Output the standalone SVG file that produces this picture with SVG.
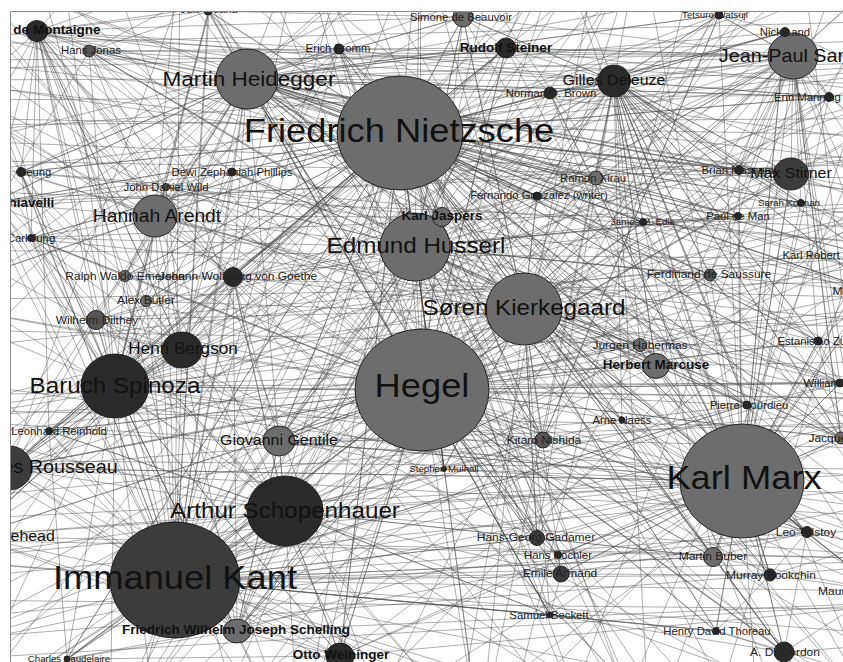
<svg xmlns="http://www.w3.org/2000/svg" width="843" height="662" viewBox="0 0 843 662">
<style>
.e{fill:none;stroke:#4d4d4d;stroke-width:0.65;stroke-opacity:0.7}
ellipse{stroke:#1a1a1a;stroke-width:0.9}
.g{fill:#6d6d6d}.d{fill:#2a2a2a}.k{fill:#3c3c3c}.m{fill:#555}
text{font-family:"Liberation Sans",Arial,sans-serif;fill:#111;text-anchor:middle;dominant-baseline:central;transform-box:fill-box;transform-origin:center;transform:scaleX(1.1)}
.xl{font-size:33px}.l2{font-size:22px}.l1{font-size:20.5px}.l0{font-size:18px}.h{font-size:17.5px}.hb{font-size:15.6px}.m1{font-size:14.5px}
.b{font-size:12.3px;font-weight:bold}.s3{font-size:10.9px;fill:#222}.s2{font-size:10.3px;fill:#222}.s1{font-size:8.8px;fill:#222}
</style>
<defs><clipPath id="c"><rect x="10" y="11" width="900" height="700"/></clipPath></defs>
<rect width="843" height="662" fill="#fff"/>
<g clip-path="url(#c)">
<g id="edges">
<path class="e" d="M175 580L422 390M175 580L400 133M175 580L247 79M175 580L285 511M175 580L237 631M175 580L115 386M175 580L182 350M175 580L279 441M175 580L49 431M175 580L9 468M175 580L-28 536M175 580L415 247M175 580L524 309M175 580L742 481M175 580L155 216M175 580L96 320M175 580L233 277M175 580L67 659M175 580L340 656M175 580L442 217M175 580L537 538M175 580L561 574M175 580L713 557M175 580L444 469M175 580L543 440M175 580L747 405M175 580L710 275M175 580L640 345M175 580L656 366M175 580L596 178M175 580L232 172M175 580L146 301M175 580L125 276M175 580L21 172M175 580L31 238M175 580L37 31M175 580L-8 203M175 580L614 81M175 580L793 56M175 580L550 615M175 580L716 631M175 580L166 187M175 580L339 49M175 580L209 11M175 580L-80 80M175 580L-90 300M175 580L-60 560M175 580L-40 720M175 580L110 740M175 580L300 760M175 580L480 740M175 580L650 740M175 580L880 720M175 580L940 560M175 580L950 400M175 580L420 -70M175 580L180 -60M175 580L-60 -40M175 580L-100 420M175 580L760 760M175 580L-70 650M175 580L560 -50M175 580L300 -60"/>
<path class="e" d="M422 390L400 133M422 390L247 79M422 390L415 247M422 390L524 309M422 390L742 481M422 390L285 511M422 390L115 386M422 390L279 441M422 390L543 440M422 390L444 469M422 390L640 345M422 390L656 366M422 390L442 217M422 390L155 216M422 390L237 631M422 390L233 277M422 390L182 350M422 390L96 320M422 390L614 81M422 390L793 56M422 390L791 174M422 390L710 275M422 390L747 405M422 390L622 420M422 390L537 538M422 390L561 574M422 390L713 557M422 390L807 532M422 390L841 438M422 390L840 383M422 390L818 341M422 390L739 170M422 390L801 203M422 390L506 48M422 390L550 93M422 390L339 49M422 390L596 178M422 390L537 196M422 390L643 222M422 390L719 15M422 390L340 656M422 390L67 659M422 390L49 431M422 390L9 468M422 390L-28 536M422 390L37 31M422 390L89 51M422 390L463 17M422 390L785 32M422 390L829 97M422 390L770 575M422 390L716 631M422 390L784 652M422 390L558 555M422 390L550 615M422 390L125 276M422 390L146 301M422 390L232 172M422 390L31 238M422 390L-80 80M422 390L-90 300M422 390L-40 720M422 390L110 740M422 390L300 760M422 390L480 740M422 390L650 740M422 390L880 720M422 390L940 560M422 390L950 400M422 390L930 200M422 390L900 -40M422 390L640 -60M422 390L420 -70M422 390L180 -60M422 390L-60 -40M422 390L-100 420M422 390L990 60M422 390L760 760M422 390L-70 650M422 390L560 -50M422 390L300 -60M422 390L960 300"/>
<path class="e" d="M400 133L247 79M400 133L614 81M400 133L793 56M400 133L791 174M400 133L463 17M400 133L339 49M400 133L506 48M400 133L550 93M400 133L719 15M400 133L785 32M400 133L829 97M400 133L739 170M400 133L801 203M400 133L738 216M400 133L596 178M400 133L537 196M400 133L643 222M400 133L442 217M400 133L415 247M400 133L524 309M400 133L285 511M400 133L115 386M400 133L182 350M400 133L155 216M400 133L166 187M400 133L232 172M400 133L233 277M400 133L125 276M400 133L146 301M400 133L96 320M400 133L37 31M400 133L89 51M400 133L209 11M400 133L21 172M400 133L31 238M400 133L656 366M400 133L640 345M400 133L710 275M400 133L818 341M400 133L840 383M400 133L841 438M400 133L747 405M400 133L622 420M400 133L543 440M400 133L444 469M400 133L340 656M400 133L279 441M400 133L67 659M400 133L784 652M400 133L716 631M400 133L770 575M400 133L807 532M400 133L-8 203M400 133L49 431M400 133L9 468M400 133L-28 536M400 133L868 255M400 133L874 291M400 133L-80 80M400 133L-90 300M400 133L-60 560M400 133L930 200M400 133L900 -40M400 133L640 -60M400 133L420 -70M400 133L180 -60M400 133L-60 -40M400 133L990 60M400 133L560 -50M400 133L300 -60M400 133L960 300M400 133L950 400M400 133L940 560M400 133L880 720M400 133L650 740M400 133L480 740M400 133L300 760M400 133L110 740M400 133L-40 720"/>
<path class="e" d="M742 481L656 366M742 481L640 345M742 481L747 405M742 481L622 420M742 481L543 440M742 481L713 557M742 481L807 532M742 481L770 575M742 481L716 631M742 481L784 652M742 481L561 574M742 481L537 538M742 481L558 555M742 481L550 615M742 481L841 438M742 481L840 383M742 481L818 341M742 481L710 275M742 481L868 255M742 481L874 291M742 481L880 591M742 481L793 56M742 481L614 81M742 481L791 174M742 481L524 309M742 481L415 247M742 481L285 511M742 481L340 656M742 481L444 469M742 481L115 386M742 481L247 79M742 481L596 178M742 481L537 196M742 481L643 222M742 481L739 170M742 481L801 203M742 481L738 216M742 481L550 93M742 481L506 48M742 481L719 15M742 481L785 32M742 481L829 97M742 481L279 441M742 481L237 631M742 481L9 468M742 481L300 760M742 481L480 740M742 481L650 740M742 481L880 720M742 481L940 560M742 481L950 400M742 481L930 200M742 481L900 -40M742 481L640 -60M742 481L990 60M742 481L760 760M742 481L960 300M742 481L560 -50M742 481L-70 650M742 481L-60 560"/>
<path class="e" d="M247 79L37 31M247 79L89 51M247 79L339 49M247 79L463 17M247 79L209 11M247 79L415 247M247 79L524 309M247 79L155 216M247 79L166 187M247 79L232 172M247 79L233 277M247 79L614 81M247 79L793 56M247 79L442 217M247 79L182 350M247 79L96 320M247 79L125 276M247 79L146 301M247 79L31 238M247 79L21 172M247 79L-8 203M247 79L829 97M247 79L506 48M247 79L550 93M247 79L537 538M247 79L550 615M247 79L643 222M247 79L596 178M247 79L537 196M247 79L285 511M247 79L115 386M247 79L738 216M247 79L739 170M247 79L785 32M247 79L719 15M247 79L710 275M247 79L-80 80M247 79L-90 300M247 79L-60 560M247 79L930 200M247 79L900 -40M247 79L640 -60M247 79L420 -70M247 79L180 -60M247 79L-60 -40M247 79L990 60M247 79L300 -60M247 79L960 300M247 79L-100 420"/>
<path class="e" d="M115 386L182 350M115 386L96 320M115 386L146 301M115 386L125 276M115 386L233 277M115 386L49 431M115 386L9 468M115 386L-28 536M115 386L279 441M115 386L285 511M115 386L614 81M115 386L155 216M115 386L31 238M115 386L21 172M115 386L-8 203M115 386L37 31M115 386L67 659M115 386L237 631M115 386L340 656M115 386L415 247M115 386L524 309M115 386L89 51M115 386L166 187M115 386L232 172M115 386L209 11M115 386L339 49M115 386L840 383M115 386L656 366M115 386L-80 80M115 386L-90 300M115 386L-60 560M115 386L-40 720M115 386L110 740M115 386L300 760M115 386L-60 -40M115 386L-100 420M115 386L-70 650M115 386L950 400M115 386L940 560M115 386L930 200M115 386L960 300M115 386L990 60"/>
<path class="e" d="M614 81L793 56M614 81L791 174M614 81L785 32M614 81L829 97M614 81L739 170M614 81L801 203M614 81L738 216M614 81L719 15M614 81L506 48M614 81L550 93M614 81L463 17M614 81L596 178M614 81L537 196M614 81L643 222M614 81L710 275M614 81L415 247M614 81L524 309M614 81L182 350M614 81L285 511M614 81L818 341M614 81L840 383M614 81L841 438M614 81L868 255M614 81L874 291M614 81L656 366M614 81L640 345M614 81L747 405M614 81L622 420M614 81L543 440M614 81L537 538M614 81L713 557M614 81L339 49M614 81L89 51M614 81L37 31M614 81L930 200M614 81L900 -40M614 81L640 -60M614 81L990 60M614 81L560 -50M614 81L960 300M614 81L950 400M614 81L940 560M614 81L880 720M614 81L650 740M614 81L480 740"/>
<path class="e" d="M285 511L279 441M285 511L237 631M285 511L340 656M285 511L67 659M285 511L444 469M285 511L524 309M285 511L182 350M285 511L233 277M285 511L415 247M285 511L537 538M285 511L561 574M285 511L550 615M285 511L543 440M285 511L49 431M285 511L9 468M285 511L-28 536M285 511L713 557M285 511L155 216M285 511L96 320M285 511L-60 560M285 511L-40 720M285 511L110 740M285 511L300 760M285 511L480 740M285 511L650 740M285 511L-70 650M285 511L-100 420M285 511L880 720M285 511L940 560"/>
<path class="e" d="M415 247L442 217M415 247L793 56M415 247L537 538M415 247L463 17M415 247L643 222M415 247L339 49M415 247L596 178M415 247L537 196M415 247L710 275M415 247L841 438M415 247L738 216M415 247L656 366M415 247L640 345M415 247L155 216M415 247L166 187M415 247L232 172M415 247L444 469M415 247L543 440M415 247L622 420M415 247L747 405M415 247L818 341M415 247L739 170M415 247L89 51M415 247L209 11M415 247L930 200M415 247L640 -60M415 247L420 -70M415 247L560 -50M415 247L300 -60M415 247L960 300M415 247L110 740M415 247L480 740M415 247L650 740"/>
<path class="e" d="M524 309L793 56M524 309L442 217M524 309L543 440M524 309L444 469M524 309L713 557M524 309L640 345M524 309L537 196M524 309L596 178M524 309L622 420M524 309L537 538M524 309L550 615M524 309L561 574M524 309L643 222M524 309L155 216M524 309L182 350M524 309L96 320M524 309L807 532M524 309L791 174M524 309L463 17M524 309L339 49M524 309L237 631M524 309L279 441M524 309L880 720M524 309L940 560M524 309L950 400M524 309L930 200M524 309L640 -60M524 309L420 -70M524 309L760 760M524 309L480 740"/>
<path class="e" d="M793 56L463 17M793 56L785 32M793 56L829 97M793 56L791 174M793 56L841 438M793 56L868 255M793 56L739 170M793 56L801 203M793 56L738 216M793 56L596 178M793 56L537 196M793 56L656 366M793 56L640 345M793 56L818 341M793 56L840 383M793 56L550 93M793 56L506 48M793 56L719 15M793 56L442 217M793 56L339 49M793 56L990 60M793 56L900 -40M793 56L930 200M793 56L960 300M793 56L950 400"/>
<path class="e" d="M182 350L96 320M182 350L146 301M182 350L125 276M182 350L233 277M182 350L155 216M182 350L279 441M182 350L49 431M182 350L9 468M182 350L232 172M182 350L166 187M182 350L37 31M182 350L31 238M182 350L237 631M182 350L-80 80M182 350L-90 300M182 350L-100 420M182 350L-60 560M155 216L166 187M155 216L232 172M155 216L233 277M155 216L125 276M155 216L146 301M155 216L31 238M155 216L21 172M155 216L-8 203M155 216L37 31M155 216L89 51M155 216L209 11M155 216L339 49M155 216L442 217M155 216L656 366M155 216L640 345M155 216L-80 80M155 216L-60 -40M155 216L180 -60M155 216L-90 300"/>
<path class="e" d="M37 31L89 51M37 31L339 49M37 31L209 11M37 31L463 17M89 51L339 49M89 51L209 11M209 11L463 17M21 172L31 238M21 172L166 187M-8 203L166 187M-8 203L232 172M31 238L125 276M31 238L96 320M67 659L49 431M67 659L340 656M67 659L237 631M340 656L237 631M550 615L716 631M550 615L784 652M716 631L784 652M716 631L770 575M770 575L807 532M807 532L784 652M880 591L713 557M818 341L840 383M818 341L841 438M747 405L841 438M747 405L840 383M622 420L747 405M622 420L543 440M444 469L543 440M537 538L558 555M558 555L561 574M561 574L550 615M770 575L880 591M784 652L880 591M713 557L784 652M537 538L713 557M279 441L444 469M279 441L237 631M9 468L49 431M463 17L506 48M506 48L550 93M339 49L506 48M719 15L785 32M785 32L829 97M739 170L801 203M738 216L801 203M643 222L738 216M596 178L643 222M537 196L596 178M442 217L537 196M710 275L738 216M710 275L818 341M868 255L739 170M874 291L818 341"/>
<path class="e" d="M37 31L-60 200M37 31L300 -60M37 31L120 -60M37 31L-60 120M37 31L600 760M37 31L400 760M37 31L900 300M37 31L700 -60M37 31L950 150M37 31L182 350M37 31L125 276M37 31L96 320M37 31L31 238M37 31L-8 203M37 31L21 172M37 31L166 187M37 31L232 172M37 31L233 277M37 31L146 301M37 31L49 431M89 51L415 247M89 51L524 309M89 51L793 56M89 51L442 217M89 51L166 187M89 51L232 172M89 51L-60 300M89 51L300 -60M89 51L900 200M339 49L656 366M339 49L640 345M339 49L742 481M339 49L182 350M339 49L-60 150M339 49L600 760M21 172L400 133M21 172L247 79M21 172L115 386M21 172L950 250M21 172L500 -60M21 172L-60 50M31 238L400 133M31 238L422 390M31 238L415 247M31 238L950 200M-8 203L400 133M-8 203L247 79M-8 203L422 390M-8 203L285 511M-8 203L950 160M166 187L415 247M166 187L524 309M166 187L442 217M166 187L960 300M232 172L415 247M232 172L524 309M232 172L950 420"/>
<path class="e" d="M125 276L400 133M125 276L233 277M125 276L793 56M125 276L950 300M125 276L-60 100M125 276L300 760M233 277L400 133M233 277L285 511M233 277L279 441M233 277L237 631M233 277L524 309M233 277L415 247M233 277L950 200M233 277L700 760M233 277L-60 80M146 301L400 133M146 301L614 81M146 301L9 468M146 301L950 330M96 320L415 247M96 320L442 217M96 320L537 538M96 320L950 250M96 320L-60 600M49 431L400 133M49 431L422 390M49 431L237 631M49 431L285 511M49 431L950 480M9 468L400 133M9 468L422 390M9 468L742 481M9 468L233 277M9 468L115 386M9 468L182 350M9 468L237 631M9 468L524 309M9 468L950 520M9 468L600 -60M9 468L200 -60M-28 536L422 390M-28 536L400 133M-28 536L415 247M-28 536L742 481M-28 536L340 656M-28 536L237 631M-28 536L950 560M67 659L400 133M67 659L422 390M67 659L285 511M67 659L700 760M67 659L900 500"/>
<path class="e" d="M237 631L422 390M237 631L400 133M237 631L415 247M237 631L524 309M237 631L279 441M237 631L115 386M237 631L950 600M237 631L800 -60M340 656L400 133M340 656L422 390M340 656L285 511M340 656L115 386M340 656L9 468M340 656L900 400M340 656L950 600M279 441L422 390M279 441L400 133M279 441L415 247M279 441L524 309M279 441L442 217M279 441L543 440M279 441L742 481M279 441L-60 420M279 441L950 420M279 441L600 -60M444 469L524 309M444 469L415 247M444 469L247 79M444 469L400 133M444 469L640 345M444 469L950 500M543 440L415 247M543 440L400 133M543 440L793 56M543 440L719 15M543 440L237 631M543 440L115 386M543 440L950 450M622 420L400 133M622 420L415 247M622 420L713 557M622 420L770 575M622 420L807 532M622 420L9 468"/>
<path class="e" d="M747 405L415 247M747 405L400 133M747 405L614 81M747 405L656 366M747 405L640 345M747 405L524 309M747 405L175 580M747 405L285 511M710 275L415 247M710 275L400 133M710 275L524 309M710 275L614 81M710 275L793 56M710 275L841 438M710 275L285 511M710 275L950 600M640 345L247 79M640 345L524 309M640 345L537 538M640 345L9 468M640 345L950 420M640 345L800 760M656 366L247 79M656 366L524 309M656 366L614 81M656 366L770 575M656 366L807 532M656 366L950 360M596 178L442 217M596 178L247 79M596 178L115 386M596 178L950 80M537 196L400 133M537 196L247 79M537 196L524 309M537 196L614 81M537 196L793 56M537 196L950 150M643 222L247 79M643 222L524 309M643 222L793 56M643 222L950 250M442 217L400 133M442 217L247 79M442 217L614 81M442 217L182 350M442 217L285 511M463 17L400 133M463 17L247 79M463 17L415 247M463 17L524 309M463 17L614 81M463 17L742 481"/>
<path class="e" d="M506 48L400 133M506 48L247 79M506 48L115 386M506 48L422 390M506 48L182 350M506 48L233 277M506 48L793 56M506 48L950 100M550 93L400 133M550 93L247 79M550 93L614 81M550 93L656 366M550 93L742 481M550 93L182 350M719 15L543 440M719 15L415 247M719 15L247 79M719 15L614 81M719 15L793 56M785 32L614 81M785 32L400 133M785 32L742 481M785 32L739 170M785 32L950 100M829 97L614 81M829 97L739 170M829 97L400 133M829 97L247 79M829 97L950 200M791 174L400 133M791 174L247 79M791 174L614 81M791 174L742 481M791 174L422 390M791 174L656 366M791 174L115 386M791 174L950 230M791 174L950 80M791 174L900 -60M739 170L614 81M739 170L400 133M739 170L247 79M739 170L950 150M801 203L400 133M801 203L614 81M801 203L247 79M801 203L950 260M738 216L400 133M738 216L614 81M738 216L415 247M738 216L247 79M738 216L950 300"/>
<path class="e" d="M868 255L400 133M868 255L422 390M868 255L285 511M868 255L791 174M874 291L400 133M874 291L247 79M874 291L422 390M874 291L614 81M874 291L742 481M818 341L742 481M818 341L400 133M818 341L614 81M818 341L422 390M840 383L400 133M840 383L422 390M840 383L415 247M840 383L524 309M840 383L742 481M840 383L175 580M841 438L400 133M841 438L415 247M841 438L247 79M841 438L614 81M841 438L422 390M841 438L742 481M841 438L793 56M807 532L742 481M807 532L422 390M807 532L175 580M807 532L400 133M807 532L713 557M807 532L950 600M713 557L422 390M713 557L400 133M713 557L415 247M713 557L524 309M713 557L742 481M713 557L175 580M713 557L950 700M770 575L742 481M770 575L400 133M770 575L614 81M770 575L175 580M770 575L950 520M716 631L742 481M716 631L400 133M716 631L422 390M716 631L175 580M716 631L950 700M784 652L742 481M784 652L713 557M784 652L422 390M784 652L400 133M784 652L950 640"/>
<path class="e" d="M537 538L415 247M537 538L247 79M537 538L400 133M537 538L422 390M537 538L524 309M537 538L175 580M558 555L742 481M558 555L422 390M558 555L400 133M561 574L742 481M561 574L422 390M561 574L400 133M561 574L770 575M561 574L807 532M550 615L400 133M550 615L422 390M550 615L285 511M550 615L175 580M550 615L247 79M880 591L415 247M880 591L524 309M880 591L247 79M880 591L422 390M880 591L793 56M880 591L742 481M880 591L175 580M208 11L400 133M208 11L247 79M208 11L422 390M208 11L415 247M208 11L115 386M208 11L175 580"/>
<path class="e" d="M-60 100L900 95M-60 118L880 135M-60 70L900 40M-60 133L614 81M-70 60L793 56M-60 140L791 174M-80 125L949 118M-60 190L930 230M-60 395L960 380M-60 410L960 430M-60 600L960 610M-60 520L950 470M-60 250L950 260M-50 330L960 350M-60 45L950 20M100 -60L400 760M250 -60L600 760M500 -60L300 760M700 -60L500 760M800 -60L900 760M60 -60L160 760M900 100L-60 620M960 200L200 760M-60 280L700 760M-80 20L860 700M-60 160L960 180M-60 300L960 280M-60 460L960 470M-60 480L700 -60M-60 640L960 560M-60 560L960 640M100 760L960 -40M300 760L960 100M0 -60L900 760M400 -60L-60 500M600 -60L-60 300M200 760L800 -60M450 760L600 -60M650 760L350 -60M900 760L-60 240M-60 20L960 320M-60 -20L700 760M960 40L-60 500"/>
<path class="e" d="M-60 210L960 150M-60 230L960 330M-60 350L960 240M-60 380L960 520M-60 440L960 300M-60 500L960 400M-60 540L960 560M-60 580L960 480M-60 620L960 520M-60 660L960 600M-60 80L960 230M-60 60L960 170M-60 30L960 90M-60 175L960 60M150 -60L700 760M350 -60L850 760M550 -60L200 760M650 -60L100 760M750 -60L350 760M850 -60L550 760M950 -60L700 760M950 150L150 760M950 350L400 760M-60 700L850 -60M-60 350L400 -60M30 -60L250 760M120 760L350 -60M960 700L450 -60M960 450L-60 150M960 250L-60 420M960 600L-60 80M960 520L250 -60M600 760L950 -60M-60 420L560 760M-60 130L500 760M-60 50L300 760"/>
</g>
<g id="n-nietzsche"><ellipse class="g" cx="400" cy="133" rx="63" ry="57"/><text class="xl" x="399" y="131">Friedrich Nietzsche</text></g>
<g id="n-kant"><ellipse class="k" cx="175" cy="580" rx="65" ry="58"/><text class="xl" x="175" y="578">Immanuel Kant</text></g>
<g id="n-hegel"><ellipse class="g" cx="422" cy="390" rx="67" ry="61"/><text class="xl" x="422" y="386">Hegel</text></g>
<g id="n-marx"><ellipse class="g" cx="742" cy="481" rx="62" ry="57"/><text class="xl" x="744" y="478">Karl Marx</text></g>
<g id="n-heidegger"><ellipse class="g" cx="247" cy="79" rx="31" ry="30"/><text class="l1" x="249" y="79">Martin Heidegger</text></g>
<g id="n-husserl"><ellipse class="g" cx="415" cy="247" rx="35" ry="34"/><text class="l2" x="416" y="245">Edmund Husserl</text></g>
<g id="n-jaspers"><ellipse class="g" cx="442" cy="217" rx="9.5" ry="9.5"/><text class="b" x="442" y="216">Karl Jaspers</text></g>
<g id="n-kierkegaard"><ellipse class="g" cx="524" cy="309" rx="38" ry="36"/><text class="l2" x="524" y="307">Søren Kierkegaard</text></g>
<g id="n-spinoza"><ellipse class="d" cx="115" cy="386" rx="34" ry="32"/><text class="l2" x="115" y="385">Baruch Spinoza</text></g>
<g id="n-schopenhauer"><ellipse class="d" cx="285" cy="511" rx="38" ry="35"/><text class="l2" x="285" y="510">Arthur Schopenhauer</text></g>
<g id="n-sartre"><ellipse class="g" cx="793" cy="56" rx="25" ry="23"/><text class="l0" x="793" y="56">Jean-Paul Sartre</text></g>
<g id="n-rousseau"><ellipse class="k" cx="9" cy="468" rx="23" ry="22"/><text class="l0" x="9" y="467">Jean-Jacques Rousseau</text></g>
<g id="n-arendt"><ellipse class="g" cx="155" cy="216" rx="22" ry="21"/><text class="h" x="157" y="216">Hannah Arendt</text></g>
<g id="n-bergson"><ellipse class="d" cx="182" cy="350" rx="20" ry="18"/><text class="hb" x="183" y="348">Henri Bergson</text></g>
<g id="n-deleuze"><ellipse class="d" cx="614" cy="81" rx="16.5" ry="16"/><text class="m1" x="614" y="80">Gilles Deleuze</text></g>
<g id="n-stirner"><ellipse class="k" cx="791" cy="174" rx="17.5" ry="16"/><text class="m1" x="791" y="173">Max Stirner</text></g>
<g id="n-gentile"><ellipse class="g" cx="279" cy="441" rx="16" ry="15"/><text class="m1" x="279" y="440">Giovanni Gentile</text></g>
<g id="n-whitehead"><ellipse class="g" cx="-28" cy="536" rx="15" ry="14"/><text class="m1" x="-28" y="536">Alfred North Whitehead</text></g>
<g id="n-machiavelli"><ellipse class="d" cx="-8" cy="203" rx="8" ry="8"/><text class="b" x="-8" y="203">Niccolò Machiavelli</text></g>
<g id="n-montaigne"><ellipse class="d" cx="37" cy="31" rx="11" ry="10.5"/><text class="b" x="34" y="30">Michel de Montaigne</text></g>
<g id="n-steiner"><ellipse class="d" cx="506" cy="48" rx="10" ry="10"/><text class="b" x="506" y="48">Rudolf Steiner</text></g>
<g id="n-marcuse"><ellipse class="g" cx="656" cy="366" rx="13.5" ry="12.5"/><text class="b" x="656" y="365">Herbert Marcuse</text></g>
<g id="n-weininger"><ellipse class="d" cx="340" cy="656" rx="14" ry="13"/><text class="b" x="341" y="655">Otto Weininger</text></g>
<g id="n-schelling"><ellipse class="g" cx="237" cy="631" rx="14" ry="12"/><text class="b" x="236" y="630">Friedrich Wilhelm Joseph Schelling</text></g>
<g id="n-beauvoir"><ellipse class="g" cx="463" cy="17" rx="10" ry="10"/><text class="s2" x="461" y="17">Simone de Beauvoir</text></g>
<g id="n-gadamer"><ellipse class="k" cx="537" cy="538" rx="7.5" ry="7.5"/><text class="s3" x="536" y="537">Hans-Georg Gadamer</text></g>
<g id="n-saussure"><ellipse class="m" cx="710" cy="275" rx="6" ry="6"/><text class="s3" x="709" y="274">Ferdinand de Saussure</text></g>
<g id="n-habermas"><ellipse class="g" cx="640" cy="345" rx="6.5" ry="6.5"/><text class="s3" x="640" y="345">Jurgen Habermas</text></g>
<g id="n-nishida"><ellipse class="m" cx="543" cy="440" rx="8" ry="8"/><text class="s3" x="544" y="440">Kitaro Nishida</text></g>
<g id="n-buber"><ellipse class="g" cx="713" cy="557" rx="9.5" ry="9.5"/><text class="s3" x="713" y="556">Martin Buber</text></g>
<g id="n-bookchin"><ellipse class="d" cx="770" cy="575" rx="6" ry="6"/><text class="s3" x="771" y="575">Murray Bookchin</text></g>
<g id="n-gordon"><ellipse class="d" cx="784" cy="652" rx="10" ry="10"/><text class="s3" x="785" y="652">A. D. Gordon</text></g>
<g id="n-armand"><ellipse class="k" cx="561" cy="574" rx="8" ry="8"/><text class="s3" x="560" y="573">Emile Armand</text></g>
<g id="n-dilthey"><ellipse class="m" cx="96" cy="320" rx="9.5" ry="9.5"/><text class="s3" x="97" y="320">Wilhelm Dilthey</text></g>
<g id="n-emerson"><ellipse class="g" cx="125" cy="276" rx="5.5" ry="5.5"/><text class="s3" x="125" y="276">Ralph Waldo Emerson</text></g>
<g id="n-goethe"><ellipse class="d" cx="233" cy="277" rx="9.5" ry="9.5"/><text class="s3" x="238" y="276">Johann Wolfgang von Goethe</text></g>
<g id="n-butler"><ellipse class="g" cx="146" cy="301" rx="5.5" ry="5.5"/><text class="s3" x="146" y="300">Alex Butler</text></g>
<g id="n-tolstoy"><ellipse class="d" cx="807" cy="532" rx="5.5" ry="5.5"/><text class="s3" x="806" y="532">Leo Tolstoy</text></g>
<g id="n-jonas"><ellipse class="m" cx="89" cy="51" rx="6" ry="6"/><text class="s2" x="91" y="50">Hans Jonas</text></g>
<g id="n-fromm"><ellipse class="d" cx="339" cy="49" rx="5" ry="5"/><text class="s2" x="338" y="48">Erich Fromm</text></g>
<g id="n-brown"><ellipse class="d" cx="550" cy="93" rx="6" ry="6"/><text class="s2" x="551" y="93">Norman O. Brown</text></g>
<g id="n-xirau"><ellipse class="g" cx="596" cy="178" rx="7" ry="7"/><text class="s2" x="593" y="178">Ramon Xirau</text></g>
<g id="n-gonzalez"><ellipse class="d" cx="537" cy="196" rx="4" ry="4"/><text class="s2" x="539" y="195">Fernando Gonzalez (writer)</text></g>
<g id="n-reinhold"><ellipse class="d" cx="49" cy="431" rx="3.5" ry="3.5"/><text class="s2" x="59" y="431">Leonhard Reinhold</text></g>
<g id="n-bourdieu"><ellipse class="d" cx="747" cy="405" rx="4" ry="4"/><text class="s2" x="749" y="405">Pierre Bourdieu</text></g>
<g id="n-thoreau"><ellipse class="d" cx="716" cy="631" rx="3.5" ry="3.5"/><text class="s2" x="717" y="631">Henry David Thoreau</text></g>
<g id="n-beckett"><ellipse class="d" cx="550" cy="615" rx="3" ry="3"/><text class="s2" x="549" y="615">Samuel Beckett</text></g>
<g id="n-wild"><ellipse class="m" cx="166" cy="187" rx="3.5" ry="3.5"/><text class="s2" x="166" y="187">John Daniel Wild</text></g>
<g id="n-koechler"><ellipse class="d" cx="558" cy="555" rx="3.5" ry="3.5"/><text class="s2" x="558" y="555">Hans Köchler</text></g>
<g id="n-deman"><ellipse class="d" cx="738" cy="216" rx="3.5" ry="3.5"/><text class="s2" x="738" y="216">Paul de Man</text></g>
<g id="n-phillips"><ellipse class="d" cx="232" cy="172" rx="4" ry="4"/><text class="s2" x="232" y="172">Dewi Zephaniah Phillips</text></g>
<g id="n-nickland"><ellipse class="d" cx="785" cy="32" rx="4.5" ry="4.5"/><text class="s2" x="785" y="32">Nick Land</text></g>
<g id="n-jung"><ellipse class="d" cx="31" cy="238" rx="3.5" ry="3.5"/><text class="s2" x="31" y="238">Carl Jung</text></g>
<g id="n-massumi"><ellipse class="d" cx="739" cy="170" rx="4.5" ry="4.5"/><text class="s2" x="739" y="170">Brian Massumi</text></g>
<g id="n-manning"><ellipse class="d" cx="829" cy="97" rx="4.5" ry="4.5"/><text class="s2" x="842" y="97">Erin Manning (philosopher)</text></g>
<g id="n-kofman"><ellipse class="d" cx="801" cy="203" rx="3.5" ry="3.5"/><text class="s1" x="789" y="203">Sarah Kofman</text></g>
<g id="n-edie"><ellipse class="d" cx="643" cy="222" rx="3.5" ry="3.5"/><text class="s1" x="643" y="222">James M. Edie</text></g>
<g id="n-watsuji"><ellipse class="d" cx="719" cy="15" rx="4" ry="4"/><text class="s1" x="715" y="15">Tetsuro Watsuji</text></g>
<g id="n-mulhall"><ellipse class="d" cx="444" cy="469" rx="2.5" ry="2.5"/><text class="s1" x="444" y="469">Stephen Mulhall</text></g>
<g id="n-baudelaire"><ellipse class="d" cx="67" cy="659" rx="3" ry="3"/><text class="s1" x="69" y="659">Charles Baudelaire</text></g>
<g id="n-naess"><ellipse class="d" cx="622" cy="420" rx="3" ry="3"/><text class="s2" x="622" y="420">Arne Naess</text></g>
<g id="n-zuleta"><ellipse class="d" cx="818" cy="341" rx="4" ry="4"/><text class="s2" x="821" y="341">Estanislao Zuleta</text></g>
<g id="n-hartmann"><ellipse class="d" cx="868" cy="255" rx="4" ry="4"/><text class="s2" x="868" y="255">Karl Robert Eduard von Hartmann</text></g>
<g id="n-eckhart"><ellipse class="g" cx="874" cy="291" rx="8" ry="8"/><text class="s3" x="874" y="291">Meister Eckhart</text></g>
<g id="n-james"><ellipse class="d" cx="840" cy="383" rx="4" ry="4"/><text class="s2" x="840" y="383">William James</text></g>
<g id="n-derrida"><ellipse class="g" cx="841" cy="438" rx="6" ry="6"/><text class="s3" x="852" y="438">Jacques Derrida</text></g>
<g id="n-merleauponty"><ellipse class="g" cx="880" cy="591" rx="8" ry="8"/><text class="s3" x="880" y="591">Maurice Merleau-Ponty</text></g>
<g id="n-tosaka"><ellipse class="d" cx="208" cy="11" rx="4" ry="4"/><text class="s2" x="209" y="9">Jun Tosaka</text></g>
<g id="n-seung"><ellipse class="d" cx="21" cy="172" rx="4.5" ry="4.5"/><text class="s2" x="35" y="172">Seung</text></g>
</g>
<path d="M10.5 662V11.5H843" fill="none" stroke="#8a8a8a" stroke-width="1"/>
</svg>
